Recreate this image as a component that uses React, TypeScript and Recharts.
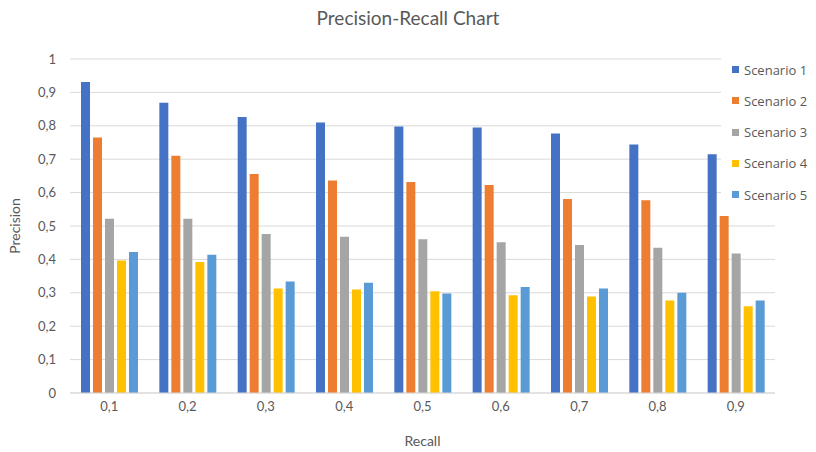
import React from 'react';
import { BarChart, Bar, XAxis, YAxis, CartesianGrid } from 'recharts';

const recall = ['0,1', '0,2', '0,3', '0,4', '0,5', '0,6', '0,7', '0,8', '0,9'];
const scenario1 = [0.931, 0.869, 0.826, 0.81, 0.798, 0.795, 0.777, 0.744, 0.715];
const scenario2 = [0.765, 0.71, 0.656, 0.636, 0.632, 0.623, 0.581, 0.577, 0.53];
const scenario3 = [0.522, 0.522, 0.476, 0.468, 0.46, 0.451, 0.443, 0.435, 0.418];
const scenario4 = [0.397, 0.392, 0.313, 0.31, 0.305, 0.293, 0.289, 0.277, 0.26];
const scenario5 = [0.422, 0.414, 0.334, 0.33, 0.298, 0.317, 0.313, 0.3, 0.277];
const yTicks = [0, 0.1, 0.2, 0.3, 0.4, 0.5, 0.6, 0.7, 0.8, 0.9, 1];

const SERIES = [
    { key: 's1', name: 'Scenario 1', color: '#4472C4' },
    { key: 's2', name: 'Scenario 2', color: '#ED7D31' },
    { key: 's3', name: 'Scenario 3', color: '#A5A5A5' },
    { key: 's4', name: 'Scenario 4', color: '#FFC000' },
    { key: 's5', name: 'Scenario 5', color: '#5B9BD5' },
];

const data = recall.map((r, i) => ({
    recall: r,
    s1: scenario1[i],
    s2: scenario2[i],
    s3: scenario3[i],
    s4: scenario4[i],
    s5: scenario5[i],
}));

const FONT = 'Lato, "Open Sans", sans-serif';
const TEXT = '#595959';

const fmt = (v: number) => (v === 0 || v === 1 ? String(v) : v.toFixed(1).replace('.', ','));

// legend box sits over the right end of the plot (white fill hides gridlines), like the Excel original
const LegendBox = () => (
    <div style={{
        position: 'absolute', left: 721, top: 54, width: 95, height: 156, background: '#fff',
        fontFamily: '"Open Sans", sans-serif', fontSize: 13, color: TEXT,
    }}>
        {SERIES.map((s) => (
            <div key={s.key} style={{ display: 'flex', alignItems: 'center', height: 31.25, paddingLeft: 11 }}>
                <span style={{ width: 7, height: 7, background: s.color, marginRight: 5, display: 'inline-block' }} />
                <span>{s.name}</span>
            </div>
        ))}
    </div>
);

const YLabel = ({ viewBox }: any) => {
    const cx = viewBox.x + 14;
    const cy = viewBox.y + viewBox.height / 2;
    return (
        <text x={cx} y={cy} transform={`rotate(-90 ${cx} ${cy})`} textAnchor="middle" dominantBaseline="central"
            fill={TEXT} fontSize={14} fontFamily={FONT}>
            Precision
        </text>
    );
};

export default function App() {
    return (
        <div style={{ position: 'absolute', left: 0, top: 0, width: 816, height: 452, background: '#fff', fontFamily: FONT }}>
            <div style={{ position: 'absolute', top: 6, width: 816, textAlign: 'center', fontSize: 19, color: TEXT }}>
                Precision-Recall Chart
            </div>
            <BarChart
                width={816}
                height={452}
                data={data}
                margin={{ top: 59, right: 41, left: 0, bottom: 0 }}
                barCategoryGap={11}
                barGap={3}
            >
                <CartesianGrid vertical={false} stroke="#d9d9d9" />
                <XAxis
                    dataKey="recall"
                    height={59}
                    tickLine={false}
                    axisLine={{ stroke: '#d9d9d9' }}
                    tick={{ fill: TEXT, fontSize: 13, fontFamily: FONT }}
                    tickMargin={3}
                    label={{ value: 'Recall', position: 'insideBottom', offset: 6, fill: TEXT, fontSize: 14, fontFamily: FONT }}
                />
                <YAxis
                    width={70}
                    domain={[0, 1]}
                    ticks={yTicks}
                    tickFormatter={fmt}
                    axisLine={false}
                    tickLine={false}
                    tickMargin={8}
                    tick={{ fill: TEXT, fontSize: 13, fontFamily: FONT }}
                    label={<YLabel />}
                />
                {SERIES.map((s) => (
                    <Bar key={s.key} dataKey={s.key} name={s.name} fill={s.color} isAnimationActive={false} />
                ))}
            </BarChart>
            <LegendBox />
        </div>
    );
}
